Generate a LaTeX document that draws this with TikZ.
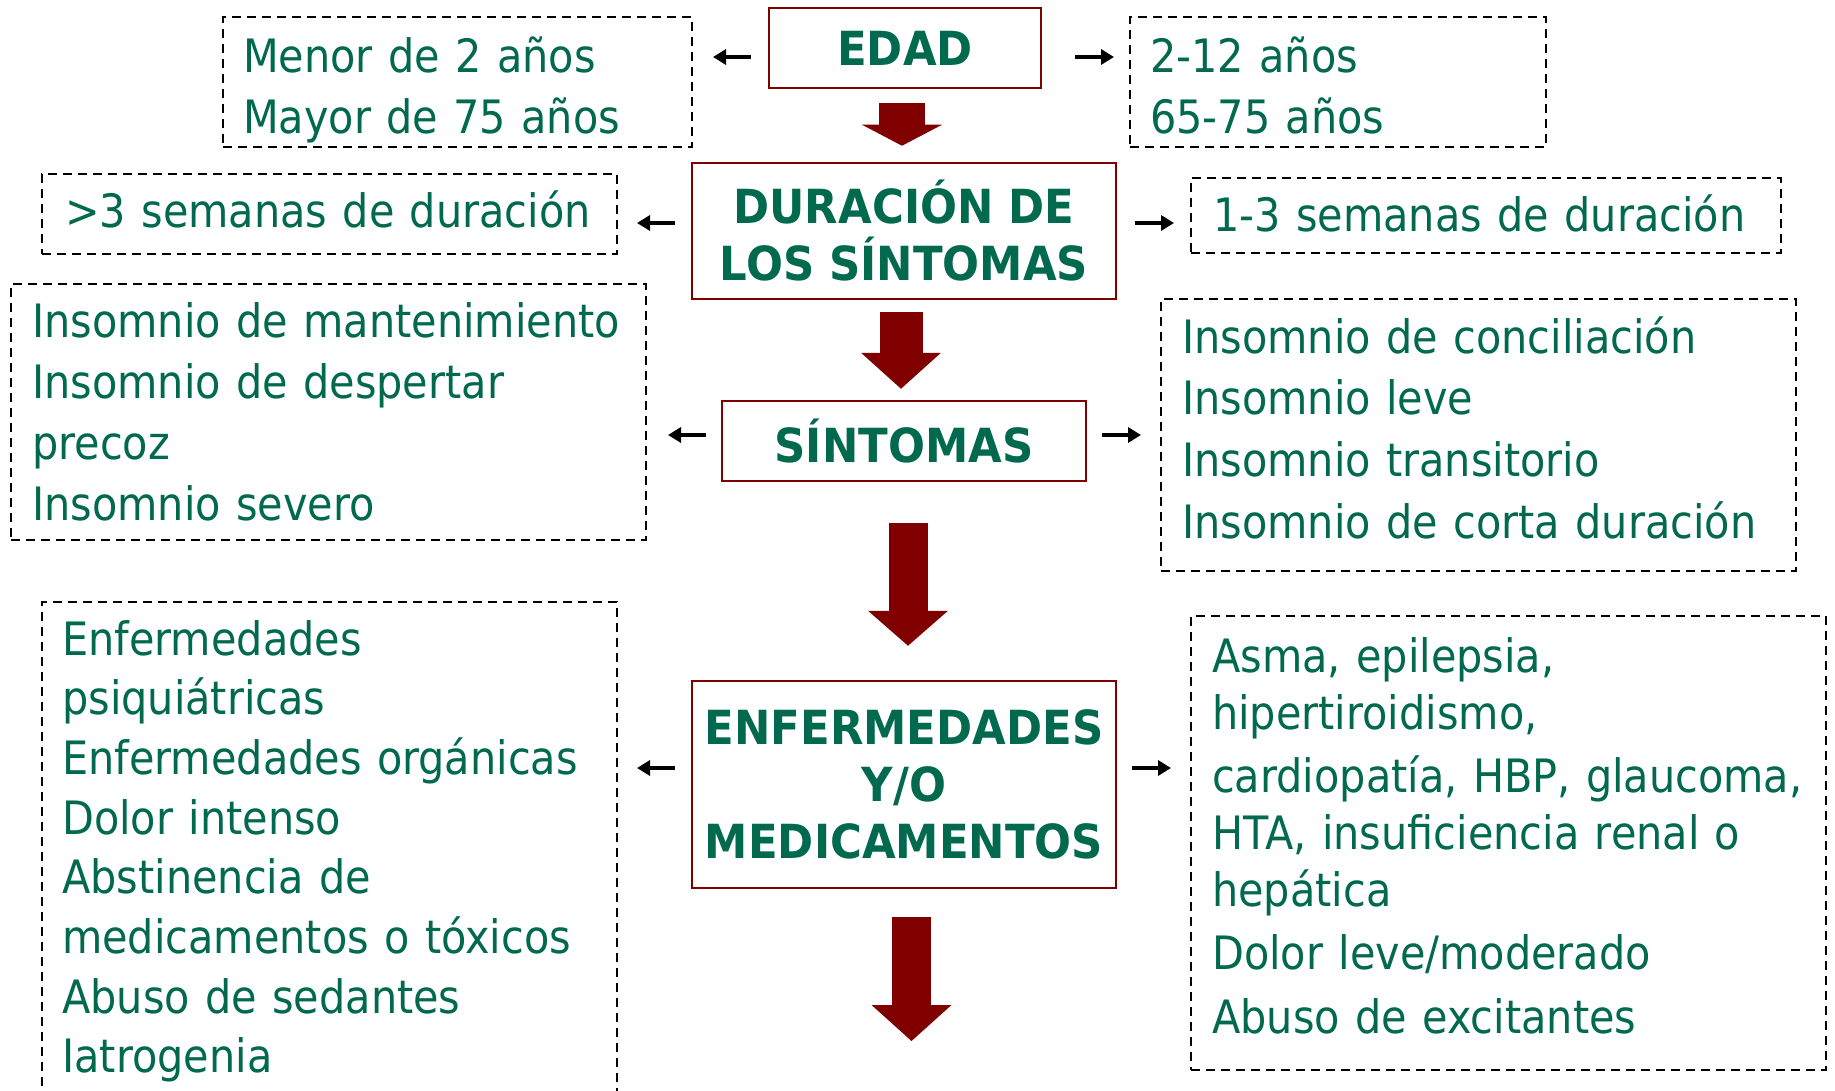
\documentclass[tikz,border=0pt]{standalone}
\usepackage{fontspec}
\setmainfont{DejaVu Sans}[FakeStretch=0.9, BoldFeatures={FakeStretch=0.925}]
\usetikzlibrary{arrows.meta}

\definecolor{verde}{HTML}{00694E}
\definecolor{granate}{HTML}{800000}

\begin{document}
\begin{tikzpicture}[
    x=1pt, y=-1pt,
    central/.style={rectangle, draw=granate, line width=2.5pt, text=verde, align=center, inner sep=0pt,
        font=\fontsize{47}{57}\selectfont\bfseries},
    lista/.style={rectangle, draw=black, line width=2pt, dash pattern=on 9pt off 6pt, inner sep=0pt},
    texto/.style={anchor=base west, inner sep=0pt, text=verde, align=left, text width=700pt},
    flechita/.style={-{Triangle[length=13pt, width=15pt]}, line width=3.5pt},
    grande/.style={draw=granate, -{Triangle[width=80pt, length=#1, line width=0pt]}}
]
\useasboundingbox (0,0) rectangle (1835,1091);

% Central column
\node[central, minimum width=272pt, minimum height=80pt] (edad) at (905,48) {EDAD};
\node[central, minimum width=424pt, minimum height=136pt] (duracion) at (904,231) {DURACIÓN DE\\LOS SÍNTOMAS};
\node[central, minimum width=364pt, minimum height=80pt] (sintomas) at (904,441) {SÍNTOMAS};
\node[central, minimum width=424pt, minimum height=207pt] (enfermedades) at (904,784.5) {ENFERMEDADES\\Y/O\\MEDICAMENTOS};
\coordinate (fin) at (911.5,1041);

% Dashed boxes
\node[lista, minimum width=469pt, minimum height=130pt] (edadizq) at (457.5,82) {};
\node[lista, minimum width=416pt, minimum height=130pt] (edadder) at (1338,82) {};
\node[lista, minimum width=575pt, minimum height=80pt] (durizq) at (329.5,214) {};
\node[lista, minimum width=590pt, minimum height=75pt] (durder) at (1486,215.5) {};
\node[lista, minimum width=635pt, minimum height=256pt] (sintizq) at (328.5,412) {};
\node[lista, minimum width=635pt, minimum height=272pt] (sintder) at (1478.5,435) {};
\node[lista, minimum width=575pt, minimum height=520pt] (enfizq) at (329.5,862) {};
\node[lista, minimum width=635pt, minimum height=454pt] (enfder) at (1508.5,843) {};

% Texts in the dashed boxes
\node[texto, font=\fontsize{46}{61}\selectfont] (edadizqtxt) at (243,73) {Menor de 2 años\\Mayor de 75 años};
\node[texto, font=\fontsize{46}{61}\selectfont] (edaddertxt) at (1150,73) {2-12 años\\65-75 años};
\node[texto, font=\fontsize{46}{61}\selectfont] (durizqtxt) at (65,228) {>3 semanas de duración};
\node[texto, font=\fontsize{46}{61}\selectfont] (durdertxt) at (1213,232) {1-3 semanas de duración};
\node[texto, font=\fontsize{46}{61}\selectfont] (sintizqtxt) at (32,337) {Insomnio de mantenimiento\\Insomnio de despertar\\precoz\\Insomnio severo};
\node[texto, font=\fontsize{46}{61.7}\selectfont] (sintdertxt) at (1182,353) {Insomnio de conciliación\\Insomnio leve\\Insomnio transitorio\\Insomnio de corta duración};
\node[texto, font=\fontsize{46}{59.7}\selectfont] (enfizqtxt) at (62,655) {Enfermedades\\psiquiátricas\\Enfermedades orgánicas\\Dolor intenso\\Abstinencia de\\medicamentos o tóxicos\\Abuso de sedantes\\Iatrogenia};
\node[texto, font=\fontsize{46}{57}\selectfont] (enfdertxt) at (1212,672) {Asma, epilepsia,\\hipertiroidismo,\\[6pt]cardiopatía, HBP, glaucoma,\\HTA, insuficiencia renal o\\hepática\\[6pt]Dolor leve/moderado\\[7pt]Abuso de excitantes};

% Small arrows to the sides
\draw[flechita, shorten <=17pt, shorten >=20pt] ([yshift=-9pt]edad.west) -- ([yshift=-9pt]edad.west -| edadizq.east);
\draw[flechita, shorten <=33pt, shorten >=15pt] ([yshift=-9pt]edad.east) -- ([yshift=-9pt]edad.east -| edadder.west);
\draw[flechita, shorten <=16pt, shorten >=19pt] ([yshift=8pt]duracion.west) -- ([yshift=8pt]duracion.west -| durizq.east);
\draw[flechita, shorten <=18pt, shorten >=16pt] ([yshift=8pt]duracion.east) -- ([yshift=8pt]duracion.east -| durder.west);
\draw[flechita, shorten <=15pt, shorten >=21pt] ([yshift=6pt]sintomas.west) -- ([yshift=6pt]sintomas.west -| sintizq.east);
\draw[flechita, shorten <=15pt, shorten >=19pt] ([yshift=6pt]sintomas.east) -- ([yshift=6pt]sintomas.east -| sintder.west);
\draw[flechita, shorten <=16pt, shorten >=19pt] ([yshift=16.5pt]enfermedades.west) -- ([yshift=16.5pt]enfermedades.west -| enfizq.east);
\draw[flechita, shorten <=15pt, shorten >=19pt] ([yshift=16.5pt]enfermedades.east) -- ([yshift=16.5pt]enfermedades.east -| enfder.west);

% Big arrows down the middle
\draw[grande=21pt, line width=46pt, shorten <=14pt, shorten >=16pt] ([xshift=-3pt]edad.south) -- ([xshift=-2pt]duracion.north);
\draw[grande=36pt, line width=43pt, shorten <=12pt, shorten >=11pt] ([xshift=-3pt]duracion.south) -- ([xshift=-3pt]sintomas.north);
\draw[grande=35pt, line width=39pt, shorten <=41pt, shorten >=34pt] ([xshift=4pt]sintomas.south) -- ([xshift=4pt]enfermedades.north);
\draw[grande=36pt, line width=39pt, shorten <=28pt] (enfermedades.south -| fin) -- (fin);

\end{tikzpicture}
\end{document}
